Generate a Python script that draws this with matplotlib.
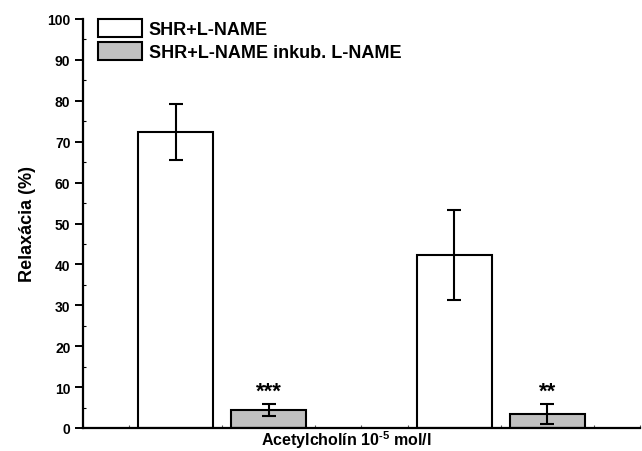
import matplotlib
matplotlib.use("Agg")
import matplotlib.pyplot as plt
from matplotlib.ticker import MultipleLocator

plt.rcParams["font.family"] = ["Liberation Sans", "DejaVu Sans"]
plt.rcParams["font.weight"] = "bold"
plt.rcParams["mathtext.fontset"] = "custom"
plt.rcParams["mathtext.rm"] = "Liberation Sans"
plt.rcParams["mathtext.bf"] = "Liberation Sans:bold"

# data
groups = [0, 1]
labels = ["SHR+L-NAME", "SHR+L-NAME inkub. L-NAME"]
ctrl_mean = [72.4, 42.3]
ctrl_err = [6.9, 11.1]
inc_mean = [4.4, 3.4]
inc_err = [1.5, 2.5]
stars = ["***", "**"]

offset = 1 / 3
width = 0.27

fig = plt.figure(figsize=(6.42, 4.52), dpi=100)
ax = fig.add_axes([83 / 642, 23 / 452, 557 / 642, 409 / 452])

ekw = dict(elinewidth=1.5, capthick=1.5)
ax.bar(groups, ctrl_mean, width, yerr=ctrl_err, color="white", edgecolor="black",
       linewidth=1.5, capsize=5, error_kw=ekw, label=labels[0], zorder=2)
inc_x = [g + offset for g in groups]
ax.bar(inc_x, inc_mean, width, yerr=inc_err, color="#c0c0c0", edgecolor="black",
       linewidth=1.5, capsize=5, error_kw=ekw, label=labels[1], zorder=2)

for x, s in zip(inc_x, stars):
    ax.text(x, 7.6, s, ha="center", va="baseline", fontsize=16, fontweight="bold")

ax.set_xlim(-1 / 3, 5 / 3)
ax.set_ylim(0, 100)
ax.yaxis.set_major_locator(MultipleLocator(10))
ax.yaxis.set_minor_locator(MultipleLocator(5))
ax.xaxis.set_major_locator(MultipleLocator(1 / 6))
ax.set_xticklabels([])

ax.spines["top"].set_visible(False)
ax.spines["right"].set_visible(False)
ax.spines["left"].set_linewidth(1.6)
ax.spines["bottom"].set_linewidth(1.6)

ax.tick_params(axis="y", which="major", direction="out", length=6, width=1.4,
               labelsize=10, pad=3)
ax.tick_params(axis="y", which="minor", direction="in", length=2, width=0.8)
ax.tick_params(axis="x", which="major", direction="in", length=2, width=0.8,
               color="#555555")
for lab in ax.get_yticklabels():
    lab.set_fontweight("bold")

ax.set_ylabel("Relaxácia (%)", fontsize=13, fontweight="bold", labelpad=8)
ax.set_xlabel("Acetylcholín 10$^{\\text{-5}}$ mol/l", fontsize=11.5,
              fontweight="bold")
ax.xaxis.set_label_coords(0.472, 0.0, transform=ax.transAxes)
ax.xaxis.label.set_va("top")

leg = ax.legend(loc="upper left", bbox_to_anchor=(98 / 642, 1 - 20 / 452),
                bbox_transform=fig.transFigure, frameon=False, fontsize=13,
                handlelength=2.45, handleheight=1.15, handletextpad=0.35,
                labelspacing=0.2, borderpad=0, borderaxespad=0)
for t in leg.get_texts():
    t.set_fontweight("bold")

fig.savefig("out.png", dpi=100)
